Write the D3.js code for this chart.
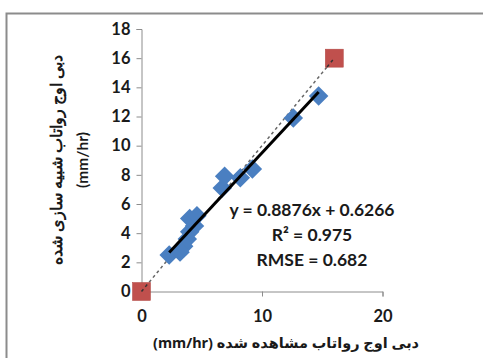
<!DOCTYPE html>
<html>
<head>
<meta charset="utf-8">
<script src="https://cdn.jsdelivr.net/npm/d3@7"></script>
<style>
  body { margin: 0; background: #fff; }
  text { font-family: Lato, "Open Sans", sans-serif; }
</style>
</head>
<body>
<div id="chart"></div>
<script>
// observed vs simulated peak runoff (mm/hr)
const observed  = [2.3, 3.2, 3.5, 3.8, 4.0, 4.4, 4.0, 4.6, 6.7, 6.9, 8.2, 9.2, 12.6, 14.7];
const simulated = [2.5, 2.7, 3.1, 3.6, 4.1, 4.5, 5.0, 5.2, 7.1, 7.9, 7.8, 8.4, 11.9, 13.4];
const refX = [0, 16];
const refY = [0, 16];
const xTicks = [0, 10, 20];
const yTicks = [0, 2, 4, 6, 8, 10, 12, 14, 16, 18];
const slope = 0.8876, intercept = 0.6266;
const fitRange = [2.3, 14.7];
const statLines = ["y = 0.8876x + 0.6266", "R² = 0.975", "RMSE = 0.682"];

const W = 483, H = 358;
const svg = d3.select("#chart").append("svg")
    .attr("width", W).attr("height", H);

// outer frame (only top and left visible)
svg.append("path")
    .attr("d", "M6.5,358 V13.5 H483")
    .attr("fill", "none").attr("stroke", "#8c8c8c").attr("stroke-width", 2);

const x = d3.scaleLinear().domain([0, 20]).range([141.5, 382.5]);
const y = d3.scaleLinear().domain([0, 18]).range([291.5, 29]);

// axes
const yAxis = svg.append("g")
    .attr("transform", `translate(${x(0)},0)`)
    .call(d3.axisLeft(y).tickValues(yTicks).tickSize(5).tickPadding(6));
const xAxis = svg.append("g")
    .attr("transform", `translate(0,${y(0)})`)
    .call(d3.axisBottom(x).tickValues(xTicks).tickSize(5).tickPadding(14));

[xAxis, yAxis].forEach(g => {
  g.select(".domain").attr("stroke", "#8c8c8c");
  g.selectAll(".tick line").attr("stroke", "#8c8c8c");
  g.selectAll(".tick text")
      .attr("fill", "#1a1a1a")
      .style("font-size", "16.5px")
      .style("font-weight", "bold")
      .style("font-family", "Lato, sans-serif");
});

// 1:1 dashed line
svg.append("line")
    .attr("x1", x(refX[0])).attr("y1", y(refY[0]))
    .attr("x2", x(refX[1])).attr("y2", y(refY[1]))
    .attr("stroke", "#666").attr("stroke-width", 1.5)
    .attr("stroke-dasharray", "3,3");

// observed points (diamonds)
svg.append("g").selectAll("path")
    .data(observed)
    .join("path")
    .attr("d", d3.symbol(d3.symbolSquare, 190))
    .attr("transform", (d, i) => `translate(${x(d)},${y(simulated[i])}) rotate(45)`)
    .attr("fill", "#4a7fc1");

// regression line
svg.append("line")
    .attr("x1", x(fitRange[0])).attr("y1", y(slope * fitRange[0] + intercept))
    .attr("x2", x(fitRange[1])).attr("y2", y(slope * fitRange[1] + intercept))
    .attr("stroke", "#000").attr("stroke-width", 3);

// reference squares
svg.append("g").selectAll("rect")
    .data(refX)
    .join("rect")
    .attr("x", d => x(d) - 9)
    .attr("y", (d, i) => y(refY[i]) - 9)
    .attr("width", 18).attr("height", 18)
    .attr("fill", "#c0504d").attr("stroke", "#b04440").attr("stroke-width", 0.5);

// dashes drawn over squares
svg.append("line")
    .attr("x1", x(refX[0])).attr("y1", y(refY[0]))
    .attr("x2", x(0.6)).attr("y2", y(0.6))
    .attr("stroke", "#333").attr("stroke-width", 1.5).attr("stroke-dasharray", "3,3");
svg.append("line")
    .attr("x1", x(15.4)).attr("y1", y(15.4))
    .attr("x2", x(16)).attr("y2", y(16))
    .attr("stroke", "#333").attr("stroke-width", 1.5).attr("stroke-dasharray", "3,3");

// statistics
svg.append("g").selectAll("text")
    .data(statLines)
    .join("text")
    .attr("x", 312)
    .attr("y", (d, i) => 216 + i * 25)
    .attr("text-anchor", "middle")
    .attr("fill", "#1a1a1a")
    .style("font-size", "17.5px")
    .style("font-weight", "bold")
    .text(d => d);

// axis titles
svg.append("text")
    .attr("x", 286).attr("y", 348)
    .attr("text-anchor", "middle")
    .attr("direction", "rtl")
    .attr("fill", "#1a1a1a")
    .style("font-size", "14.5px")
    .style("font-weight", "bold")
    .style("font-family", "'Noto Sans', 'DejaVu Sans', sans-serif")
    .text("دبی اوج رواتاب مشاهده شده (mm/hr)");

const yt = svg.append("g")
    .attr("transform", "translate(62,160) rotate(-90)")
    .attr("fill", "#1a1a1a")
    .style("font-weight", "bold")
    .style("font-family", "'Noto Sans', 'DejaVu Sans', sans-serif");
yt.append("text").attr("text-anchor", "middle").style("font-size", "16px")
    .text("دبی اوج رواتاب شبیه سازی شده");
yt.append("text").attr("text-anchor", "middle").attr("y", 26).style("font-size", "15.5px")
    .text("(mm/hr)");
</script>
</body>
</html>
